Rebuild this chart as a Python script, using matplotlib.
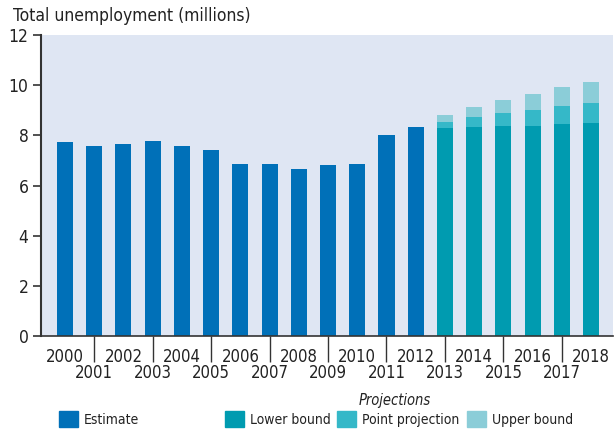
import numpy as np
import matplotlib.pyplot as plt
from matplotlib.patches import Patch

years = list(range(2000, 2019))
estimate_years = list(range(2000, 2013))
estimate = [7.73, 7.57, 7.65, 7.77, 7.57, 7.41, 6.85, 6.85, 6.65, 6.81, 6.85, 8.0, 8.33]
proj_years = list(range(2013, 2019))
lower = [8.29, 8.33, 8.37, 8.37, 8.45, 8.49]
point = [8.53, 8.73, 8.88, 9.0, 9.16, 9.28]
upper = [8.8, 9.12, 9.4, 9.64, 9.92, 10.12]

legend_labels = ['Estimate', 'Lower bound', 'Point projection', 'Upper bound']

c_est = '#0070b8'
c_low = '#009bb0'
c_pt = '#35b8c8'
c_up = '#8bcdd8'
bg = '#dfe6f3'
dark = '#333333'

plt.rcParams['font.family'] = ['DejaVu Sans']
plt.rcParams['font.stretch'] = 'condensed'
plt.rcParams['text.color'] = '#222222'
plt.rcParams['xtick.color'] = '#222222'
plt.rcParams['ytick.color'] = '#222222'

fig = plt.figure(figsize=(6.14, 4.33), dpi=100)
ax = fig.add_axes([41 / 614, 1 - 336 / 433, 572 / 614, 301 / 433])
ax.set_facecolor(bg)

w = 0.55
x_est = [y - 2000 for y in estimate_years]
x_proj = np.array([y - 2000 for y in proj_years])
lower = np.array(lower)
point = np.array(point)
upper = np.array(upper)

ax.bar(x_est, estimate, width=w, color=c_est)
ax.bar(x_proj, lower, width=w, color=c_low)
ax.bar(x_proj, point - lower, bottom=lower, width=w, color=c_pt)
ax.bar(x_proj, upper - point, bottom=point, width=w, color=c_up)

ax.set_xlim(-0.82, 18.75)
ax.set_ylim(0, 12)
ax.set_yticks(range(0, 13, 2))
ax.tick_params(axis='y', length=6, width=1.2, color=dark, labelsize=12.5, pad=3)

even = [y for y in years if y % 2 == 0]
odd = [y for y in years if y % 2 == 1]
ax.set_xticks([y - 2000 for y in even])
ax.set_xticklabels([str(y) for y in even])
ax.set_xticks([y - 2000 for y in odd], minor=True)
ax.set_xticklabels([str(y) for y in odd], minor=True)
ax.tick_params(axis='x', which='major', length=0, labelsize=12, pad=9)
ax.tick_params(axis='x', which='minor', length=19, width=1, color=dark, labelsize=12, pad=1)

for s in ['top', 'right']:
    ax.spines[s].set_visible(False)
ax.spines['left'].set_color(dark)
ax.spines['left'].set_linewidth(1.5)
ax.spines['bottom'].set_color(dark)
ax.spines['bottom'].set_linewidth(1.2)

fig.text(13 / 614, 1 - 16 / 433, 'Total unemployment (millions)', fontsize=12.5, va='center', ha='left')

# one legend per entry, placed like the original
colors = [c_est, c_low, c_pt, c_up]
anchors_px = [59, 225, 337, 467]
for lab, col, xp in zip(legend_labels, colors, anchors_px):
    fig.legend(handles=[Patch(color=col, label=lab)], loc='center left',
               bbox_to_anchor=(xp / 614, 1 - 419 / 433), frameon=False, fontsize=10,
               borderpad=0, borderaxespad=0, handlelength=1.35, handleheight=1.35,
               handletextpad=0.45)
fig.text(395 / 614, 1 - 400 / 433, 'Projections', fontsize=10.5, style='italic', ha='center', va='center')

fig.savefig('out.png', dpi=100)
